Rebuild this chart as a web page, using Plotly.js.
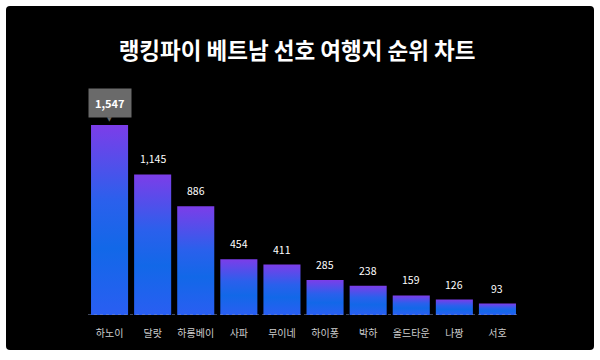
<!DOCTYPE html>
<html>
<head>
<meta charset="utf-8">
<script src="https://cdn.plot.ly/plotly-3.0.1.min.js"></script>
<style>
  html, body { margin:0; padding:0; background:#ffffff; width:600px; height:360px; overflow:hidden; }
  #bg { position:absolute; left:6px; top:6px; width:588px; height:344px; background:#000000; border-radius:4px; }
  #chart { position:absolute; left:0; top:0; width:600px; height:360px; }
</style>
</head>
<body>
<div id="bg"></div>
<div id="chart"></div>
<script>
const categories = ['하노이','달랏','하롱베이','사파','무이네','하이퐁','박하','올드타운','나짱','서호'];
const values = [1547, 1145, 886, 454, 411, 285, 238, 159, 126, 93];
const valueLabels = ['1,547','1,145','886','454','411','285','238','159','126','93'];

const FONT = '"Noto Sans CJK KR", "Noto Sans", sans-serif';
const halfWidth = 0.43;
const gradient = [[0,'#2a5ef2'],[0.35,'#1268e8'],[0.6,'#2a60ec'],[1,'#7c3de9']];

const traces = values.map((v, i) => ({
  type: 'scatter',
  mode: 'lines',
  x: [i - halfWidth, i + halfWidth, i + halfWidth, i - halfWidth, i - halfWidth],
  y: [0, 0, v, v, 0],
  fill: 'toself',
  line: { width: 0, color: 'rgba(0,0,0,0)' },
  fillgradient: { type: 'vertical', colorscale: gradient },
  hoverinfo: 'skip',
  showlegend: false
}));

const annotations = values.map((v, i) => {
  if (i === 0) {
    return {
      x: i, y: v, xref: 'x', yref: 'y',
      text: '<b>' + valueLabels[i] + '</b>',
      showarrow: false, yanchor: 'bottom', yshift: 7,
      bgcolor: '#6a6a6a', borderpad: 6,
      font: { family: FONT, size: 11, color: '#ffffff' }
    };
  }
  return {
    x: i, y: v, xref: 'x', yref: 'y',
    text: valueLabels[i],
    showarrow: false, yanchor: 'bottom', yshift: 6,
    font: { family: FONT, size: 10.5, color: '#ffffff' }
  };
});
annotations.push({
  x: 0, y: values[0], xref: 'x', yref: 'y',
  text: '▼', showarrow: false, yanchor: 'bottom', yshift: 1,
  font: { family: 'DejaVu Sans', size: 6, color: '#6a6a6a' }
});

const layout = {
  width: 600, height: 360,
  paper_bgcolor: 'rgba(0,0,0,0)',
  plot_bgcolor: 'rgba(0,0,0,0)',
  margin: { l: 88, r: 81, t: 90, b: 45 },
  title: {
    text: '<b>랭킹파이 베트남 선호 여행지 순위 차트</b>',
    font: { family: FONT, size: 22.5, color: '#ffffff' },
    x: 0.495, xref: 'container', xanchor: 'center',
    y: 1 - 51/360, yref: 'container', yanchor: 'middle'
  },
  xaxis: {
    range: [-0.5, 9.5],
    tickvals: categories.map((c, i) => i),
    ticktext: categories,
    showgrid: false, zeroline: false, showline: false, ticks: '',
    ticklabelstandoff: 11,
    tickfont: { family: FONT, size: 10, color: '#cccccc' },
    fixedrange: true
  },
  yaxis: {
    range: [0, 1832],
    visible: false, showgrid: false, zeroline: false,
    fixedrange: true
  },
  shapes: [{
    type: 'line', xref: 'x', yref: 'y',
    x0: -0.5, x1: 9.5, y0: 0, y1: 0,
    line: { color: '#8090b8', width: 1, dash: 'dot' },
    layer: 'above'
  }],
  annotations: annotations
};

Plotly.newPlot('chart', traces, layout, { displayModeBar: false, staticPlot: true });
</script>
</body>
</html>
